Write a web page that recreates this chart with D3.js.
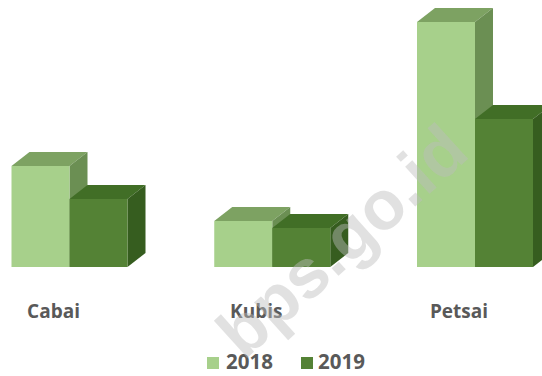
<!DOCTYPE html>
<html>
<head>
<meta charset="utf-8">
<script src="https://cdn.jsdelivr.net/npm/d3@7"></script>
<style>
  html, body { margin: 0; padding: 0; background: #ffffff; }
  svg { display: block; }
</style>
</head>
<body>
<svg id="chart" width="542" height="376"></svg>
<script>
// Vegetable categories and yearly values (relative production)
const categories = ["Cabai", "Kubis", "Petsai"];
const seriesNames = ["2018", "2019"];
const values2018 = [101, 46, 245];
const values2019 = [68, 39, 148];

// Face colours for each series: front, top, side
const palette = {
  "2018": { front: "#a7d08b", top: "#7da262", side: "#6b8f53" },
  "2019": { front: "#548235", top: "#416e26", side: "#365d1f" }
};

const svg = d3.select("#chart");

// 3D extrusion offsets
const depthX = 18, depthY = -14;

const x = d3.scalePoint().domain(categories).range([69.5, 475]);
const xs = d3.scaleBand().domain(seriesNames).range([-58, 58]).padding(0);
const y = d3.scaleLinear().domain([0, 250]).range([267, 17]);

const rows = categories.map((c, i) => ({
  cat: c,
  bars: [
    { s: "2018", v: values2018[i] },
    { s: "2019", v: values2019[i] }
  ]
}));

const bars = svg.append("g");
rows.forEach(r => {
  r.bars.forEach(b => {
    const x0 = x(r.cat) + xs(b.s);
    const x1 = x0 + xs.bandwidth();
    const yt = y(b.v), yb = y(0);
    const c = palette[b.s];
    const g = bars.append("g");
    // top face
    g.append("path")
      .attr("d", `M${x0},${yt}L${x0 + depthX},${yt + depthY}L${x1 + depthX},${yt + depthY}L${x1},${yt}Z`)
      .attr("fill", c.top);
    // side face
    g.append("path")
      .attr("d", `M${x1},${yt}L${x1 + depthX},${yt + depthY}L${x1 + depthX},${yb + depthY}L${x1},${yb}Z`)
      .attr("fill", c.side);
    // front face
    g.append("rect")
      .attr("x", x0).attr("y", yt)
      .attr("width", x1 - x0).attr("height", yb - yt)
      .attr("fill", c.front);
  });
});

// category labels
svg.append("g").selectAll("text")
  .data(categories)
  .join("text")
  .attr("x", d => x(d) - 16)
  .attr("y", 318)
  .attr("text-anchor", "middle")
  .attr("font-family", "'Open Sans', sans-serif")
  .attr("font-weight", 700)
  .attr("font-size", 19)
  .attr("fill", "#595959")
  .text(d => d);

// legend
const legendItems = [
  { s: "2018", sx: 207, tx: 226 },
  { s: "2019", sx: 301, tx: 318 }
];
const legend = svg.append("g");
legendItems.forEach(it => {
  legend.append("rect")
    .attr("x", it.sx).attr("y", 357)
    .attr("width", 12).attr("height", 12)
    .attr("fill", palette[it.s].front);
  legend.append("text")
    .attr("x", it.tx).attr("y", 369)
    .attr("font-family", "'Open Sans', sans-serif")
    .attr("font-weight", 700)
    .attr("font-size", 20.5)
    .attr("fill", "#595959")
    .text(it.s);
});

// source watermark
svg.append("text")
  .attr("transform", "translate(342,241) rotate(-42)")
  .attr("text-anchor", "middle")
  .attr("dominant-baseline", "central")
  .attr("font-family", "'Liberation Sans', Arial, sans-serif")
  .attr("font-weight", 700)
  .attr("font-size", 69)
  .attr("fill", "#bdbdbd")
  .attr("fill-opacity", 0.45)
  .text("bps.go.id");
</script>
</body>
</html>
